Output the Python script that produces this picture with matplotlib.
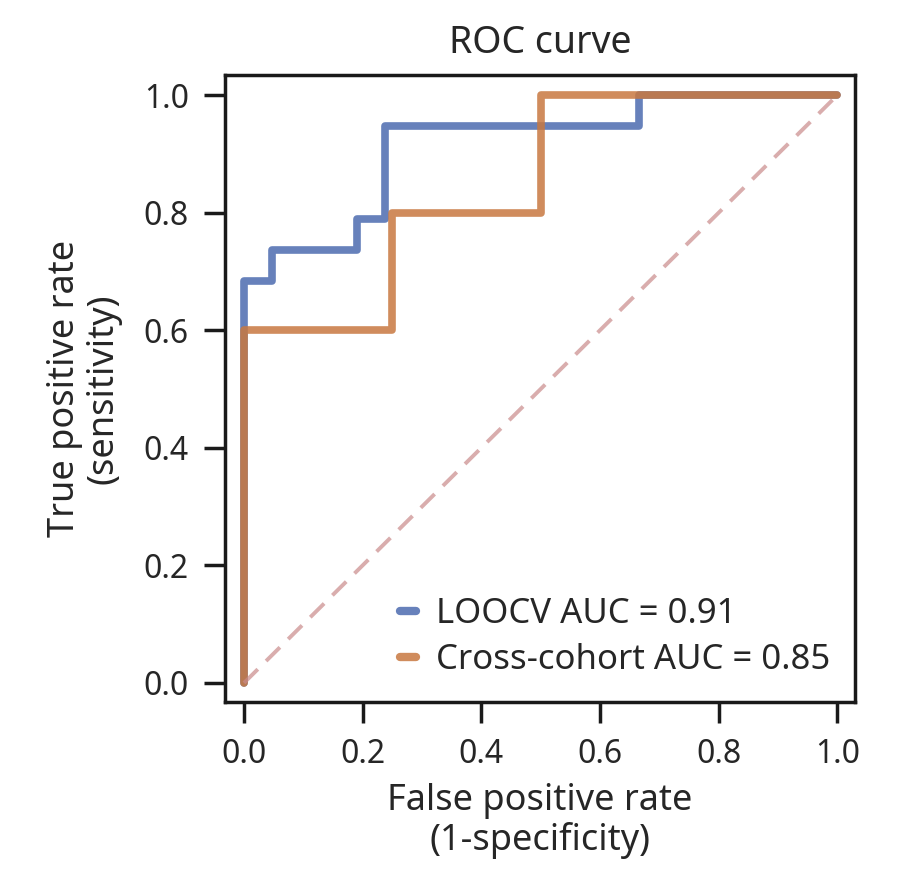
import matplotlib
matplotlib.use("Agg")
import numpy as np
import seaborn as sns
from matplotlib import pyplot as plt

# ROC points (false positive rate, true positive rate)
loocv_fpr = [0.0, 0.0, 0.0476, 0.0476, 0.1905, 0.1905, 0.2381, 0.2381, 0.6667, 0.6667, 1.0]
loocv_tpr = [0.0, 0.6842, 0.6842, 0.7368, 0.7368, 0.7895, 0.7895, 0.9474, 0.9474, 1.0, 1.0]
loocv_auc = 0.91

cross_fpr = [0.0, 0.0, 0.25, 0.25, 0.5, 0.5, 1.0]
cross_tpr = [0.0, 0.6, 0.6, 0.8, 0.8, 1.0, 1.0]
cross_auc = 0.85

ticks = [0.0, 0.2, 0.4, 0.6, 0.8, 1.0]

sns.set_style("ticks")
plt.rcParams['font.family'] = ['Noto Sans', 'DejaVu Sans']

fig, ax = plt.subplots(figsize=(9, 8.86), dpi=100)
fig.subplots_adjust(left=0.25, right=0.95, top=0.915, bottom=0.208)

ax.plot(loocv_fpr, loocv_tpr, color="#4C6BB0", lw=5.5, alpha=0.85,
        solid_capstyle="round", solid_joinstyle="round",
        label=f"LOOCV AUC = {loocv_auc:.2f}")
ax.plot(cross_fpr, cross_tpr, color="#C87840", lw=5.5, alpha=0.85,
        solid_capstyle="round", solid_joinstyle="round",
        label=f"Cross-cohort AUC = {cross_auc:.2f}")
ax.plot([0, 1], [0, 1], color="#C98A8A", lw=2.8, ls=(0, (5, 3)), alpha=0.7)

ax.set_xlim(-0.032, 1.03)
ax.set_ylim(-0.032, 1.034)
ax.set_xticks(ticks)
ax.set_yticks(ticks)
ax.tick_params(labelsize=23, width=2.5, length=15, pad=11, color="#1a1a1a")
for s in ax.spines.values():
    s.set_linewidth(2.5)
    s.set_color("#1a1a1a")

ax.set_title("ROC curve", fontsize=27, pad=16)
ax.set_xlabel("False positive rate\n(1-specificity)", fontsize=26, labelpad=9, linespacing=1.1)
ax.set_ylabel("True positive rate\n(sensitivity)", fontsize=26, labelpad=16, linespacing=1.1)

leg = ax.legend(loc="lower right", frameon=False, fontsize=25, handlelength=0.45,
                handletextpad=0.6, borderaxespad=0.3, labelspacing=0.35)
for h in leg.legend_handles:
    h.set_linewidth(6)
    h.set_solid_capstyle("round")

plt.savefig("out.png", dpi=100)
